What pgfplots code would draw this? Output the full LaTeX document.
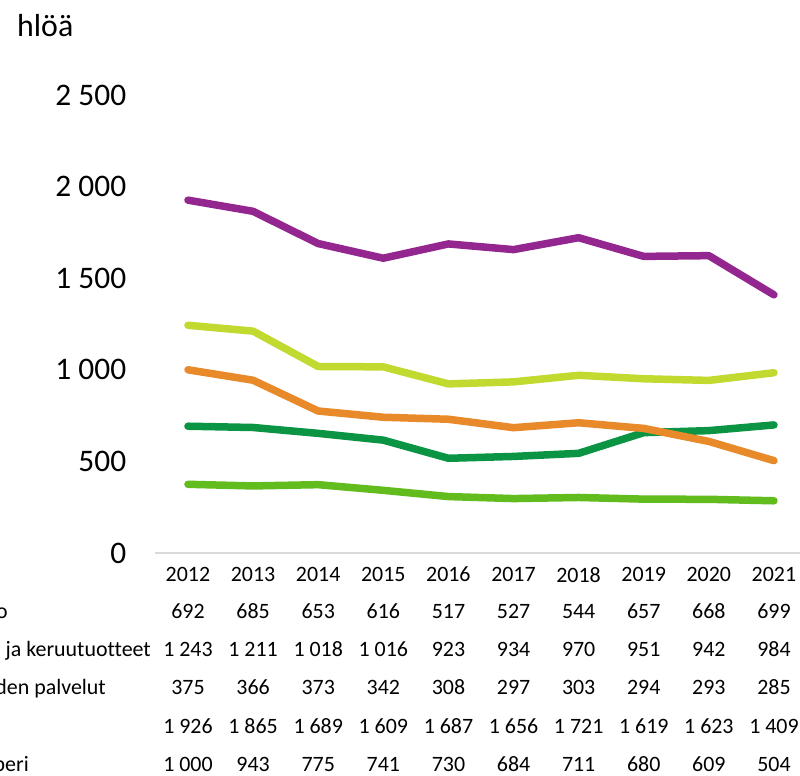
\documentclass[border=0pt]{standalone}
\usepackage{pgfplots}
\pgfplotsset{compat=1.18}
\usepackage{pgfplotstable}
\usepackage{fontspec}
\setmainfont{Carlito}[Ligatures={NoCommon}]
\definecolor{cA}{HTML}{0B9444}
\definecolor{cB}{HTML}{C2D92F}
\definecolor{cC}{HTML}{62BC1E}
\definecolor{cD}{HTML}{93278F}
\definecolor{cE}{HTML}{E8892A}
\definecolor{axgray}{HTML}{D9D9D9}
\pgfplotstableread{
year a b c d e
2012 692 1243 375 1926 1000
2013 685 1211 366 1865 943
2014 653 1018 373 1689 775
2015 616 1016 342 1609 741
2016 517 923 308 1687 730
2017 527 934 297 1656 684
2018 544 970 303 1721 711
2019 657 951 294 1619 680
2020 668 942 293 1623 609
2021 699 984 285 1409 504
}\datatable
\begin{document}
\begin{tikzpicture}[x=1bp,y=1bp]
\useasboundingbox (0,0) rectangle (800,776);
\begin{axis}[
  anchor=south west, at={(155.4bp,223bp)},
  scale only axis, width=644.6bp, height=458bp,
  xmin=2011.5, xmax=2021.4, ymin=0, ymax=2500,
  axis lines=left,
  y axis line style={draw=none},
  x axis line style={draw=axgray, line width=2bp, -},
  ytick={0,500,...,2500},
  xtick={2012,...,2021},
  xticklabels={2012,2013,2014,2015,2016,2017,2018,2019,2020,2021},
  tick style={draw=none}, major tick length=0pt,
  yticklabel style={font=\fontsize{31.5}{36}\selectfont, inner sep=0pt, anchor=east, xshift=-29bp},
  xticklabel style={font=\fontsize{22}{26}\selectfont, inner sep=0pt, anchor=north, yshift=-14bp},
  /pgf/number format/1000 sep={~},
  /pgf/number format/assume math mode=true,
  clip=false,
  every axis plot/.append style={line width=7.5bp, line cap=round, line join=round, mark=none},
]
\addplot[cA] table[x=year,y=a]{\datatable};
\addplot[cB] table[x=year,y=b]{\datatable};
\addplot[cC] table[x=year,y=c]{\datatable};
\addplot[cD] table[x=year,y=d]{\datatable};
\addplot[cE] table[x=year,y=e]{\datatable};
\end{axis}
\node[anchor=base west, inner sep=0pt, font=\fontsize{32}{36}\selectfont] at (17,739) {hlöä};
\foreach \col/\yy in {a/612,b/650,c/688,d/727,e/765} {
  \foreach \r in {0,...,9} {
    \pgfplotstablegetelem{\r}{\col}\of\datatable
    \node[anchor=base, inner sep=0pt, font=\fontsize{22}{26}\selectfont] at ({188+65.11*\r}, {776-\yy-7}) {\pgfmathprintnumber[1000 sep={~},assume math mode=true]{\pgfplotsretval}};
  }
}
\node[anchor=base east, inner sep=0pt, font=\fontsize{22}{26}\selectfont] at (8,{776-612-7}) {o};
\node[anchor=base east, inner sep=0pt, font=\fontsize{22}{26}\selectfont] at (151,{776-650-7}) {ja keruutuotteet};
\node[anchor=base east, inner sep=0pt, font=\fontsize{22}{26}\selectfont] at (106,{776-688-7}) {den palvelut};
\node[anchor=base east, inner sep=0pt, font=\fontsize{22}{26}\selectfont] at (29,{776-765-7}) {peri};
\end{tikzpicture}
\end{document}
